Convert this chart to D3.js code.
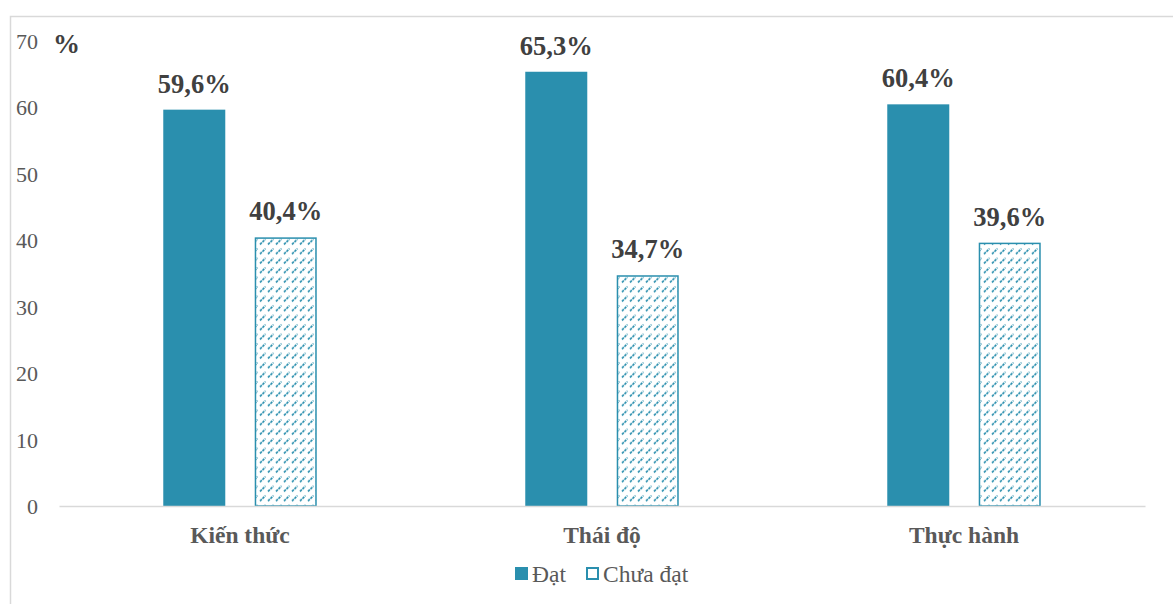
<!DOCTYPE html>
<html>
<head>
<meta charset="utf-8">
<script src="https://cdn.jsdelivr.net/npm/d3@7"></script>
<style>
  html, body { margin: 0; padding: 0; background: #fff; }
  svg { display: block; }
</style>
</head>
<body>
<svg id="chart" width="1173" height="604"></svg>
<script>
// Categories, series and values
const categories = ["Kiến thức", "Thái độ", "Thực hành"];
const seriesNames = ["Đạt", "Chưa đạt"];
const datValues = [59.6, 65.3, 60.4];
const chuaDatValues = [40.4, 34.7, 39.6];
const valueLabels = [["59,6%", "65,3%", "60,4%"], ["40,4%", "34,7%", "39,6%"]];
const yTicks = [0, 10, 20, 30, 40, 50, 60, 70];
const yUnit = "%";

const teal = "#2a8fae";
const serif = "'Liberation Serif', 'Times New Roman', serif";

const svg = d3.select("#chart");

// Outer frame (top and left edges visible)
svg.append("rect")
  .attr("x", 10.5).attr("y", 16.5)
  .attr("width", 1200).attr("height", 650)
  .attr("fill", "none").attr("stroke", "#d9d9d9").attr("stroke-width", 1.5);

// Dashed upward-diagonal hatch for the "Chưa đạt" series
const defs = svg.append("defs");
const pat = defs.append("pattern")
  .attr("id", "dashUp")
  .attr("patternUnits", "userSpaceOnUse")
  .attr("width", 8).attr("height", 9.5);
pat.append("rect").attr("width", 8).attr("height", 9.5).attr("fill", "#fff");
pat.append("line")
  .attr("x1", 1).attr("y1", 7).attr("x2", 6.5).attr("y2", 1.5)
  .attr("stroke", teal).attr("stroke-width", 1.7)
  .attr("stroke-dasharray", "2.6 0.9");

const values = [datValues, chuaDatValues];
const rows = categories.map((c, i) => ({
  category: c,
  bars: seriesNames.map((s, j) => ({ series: s, si: j, value: values[j][i], label: valueLabels[j][i] }))
}));

// Scales
const y = d3.scaleLinear().domain([0, 70]).range([506, 40.5]);
const x0 = d3.scaleBand().domain(categories).range([59, 1145]).padding(0);
const x1 = d3.scaleBand().domain(seriesNames).range([0, x0.bandwidth()])
  .paddingInner(0.322).paddingOuter(1.14);

// Y axis labels (no axis line)
const yAxis = d3.axisLeft(y).tickValues(yTicks).tickSize(0).tickPadding(0);
const yg = svg.append("g").attr("transform", "translate(38,0)").call(yAxis);
yg.select(".domain").remove();
yg.selectAll("text")
  .attr("font-family", serif).attr("font-size", 22)
  .attr("fill", "#595959").attr("dy", "0.35em");

// Unit label
svg.append("text")
  .attr("x", 53).attr("y", 53)
  .attr("font-family", serif).attr("font-size", 27).attr("font-weight", "bold")
  .attr("fill", "#404040").text(yUnit);

// Bars
const groups = svg.append("g").selectAll("g")
  .data(rows).join("g")
  .attr("transform", d => `translate(${x0(d.category)},0)`);

groups.selectAll("rect")
  .data(d => d.bars).join("rect")
  .attr("x", d => x1(d.series) + (d.si === 1 ? 0.75 : 0))
  .attr("y", d => y(d.value) + (d.si === 1 ? 0.75 : 0))
  .attr("width", d => x1.bandwidth() - (d.si === 1 ? 1.5 : 0))
  .attr("height", d => y(0) - y(d.value) - (d.si === 1 ? 0.75 : 0))
  .attr("fill", d => d.si === 0 ? teal : "url(#dashUp)")
  .attr("stroke", d => d.si === 0 ? "none" : teal)
  .attr("stroke-width", d => d.si === 0 ? 0 : 1.5);

// Value labels
groups.selectAll("text.val")
  .data(d => d.bars).join("text")
  .attr("class", "val")
  .attr("x", d => x1(d.series) + x1.bandwidth() / 2)
  .attr("y", d => y(d.value) - 17)
  .attr("text-anchor", "middle")
  .attr("font-family", serif).attr("font-size", 26.5).attr("font-weight", "bold")
  .attr("fill", "#404040")
  .text(d => d.label);

// Category axis
const xAxis = d3.axisBottom(x0).tickSize(0).tickPadding(0);
const xg = svg.append("g").attr("transform", "translate(0,506)").call(xAxis);
xg.select(".domain").attr("stroke", "#d9d9d9").attr("stroke-width", 1.5);
xg.selectAll("text")
  .attr("font-family", serif).attr("font-size", 23.5).attr("font-weight", "bold")
  .attr("fill", "#595959").attr("dy", 0).attr("y", 37);

// Legend
const legend = svg.append("g");
const legendItems = [
  { name: seriesNames[0], x: 515, fill: teal, stroke: "none" },
  { name: seriesNames[1], x: 586, fill: "url(#dashUp)", stroke: teal }
];
legendItems.forEach(it => {
  legend.append("rect")
    .attr("x", it.x + (it.stroke === "none" ? 0 : 1)).attr("y", 567 + (it.stroke === "none" ? 0 : 1))
    .attr("width", it.stroke === "none" ? 13 : 11).attr("height", it.stroke === "none" ? 13 : 11)
    .attr("fill", it.stroke === "none" ? it.fill : "#fff")
    .attr("stroke", it.stroke).attr("stroke-width", 2);
  legend.append("text")
    .attr("x", it.x + 17).attr("y", 582)
    .attr("font-family", serif).attr("font-size", 23.5)
    .attr("fill", "#595959").text(it.name);
});
</script>
</body>
</html>
